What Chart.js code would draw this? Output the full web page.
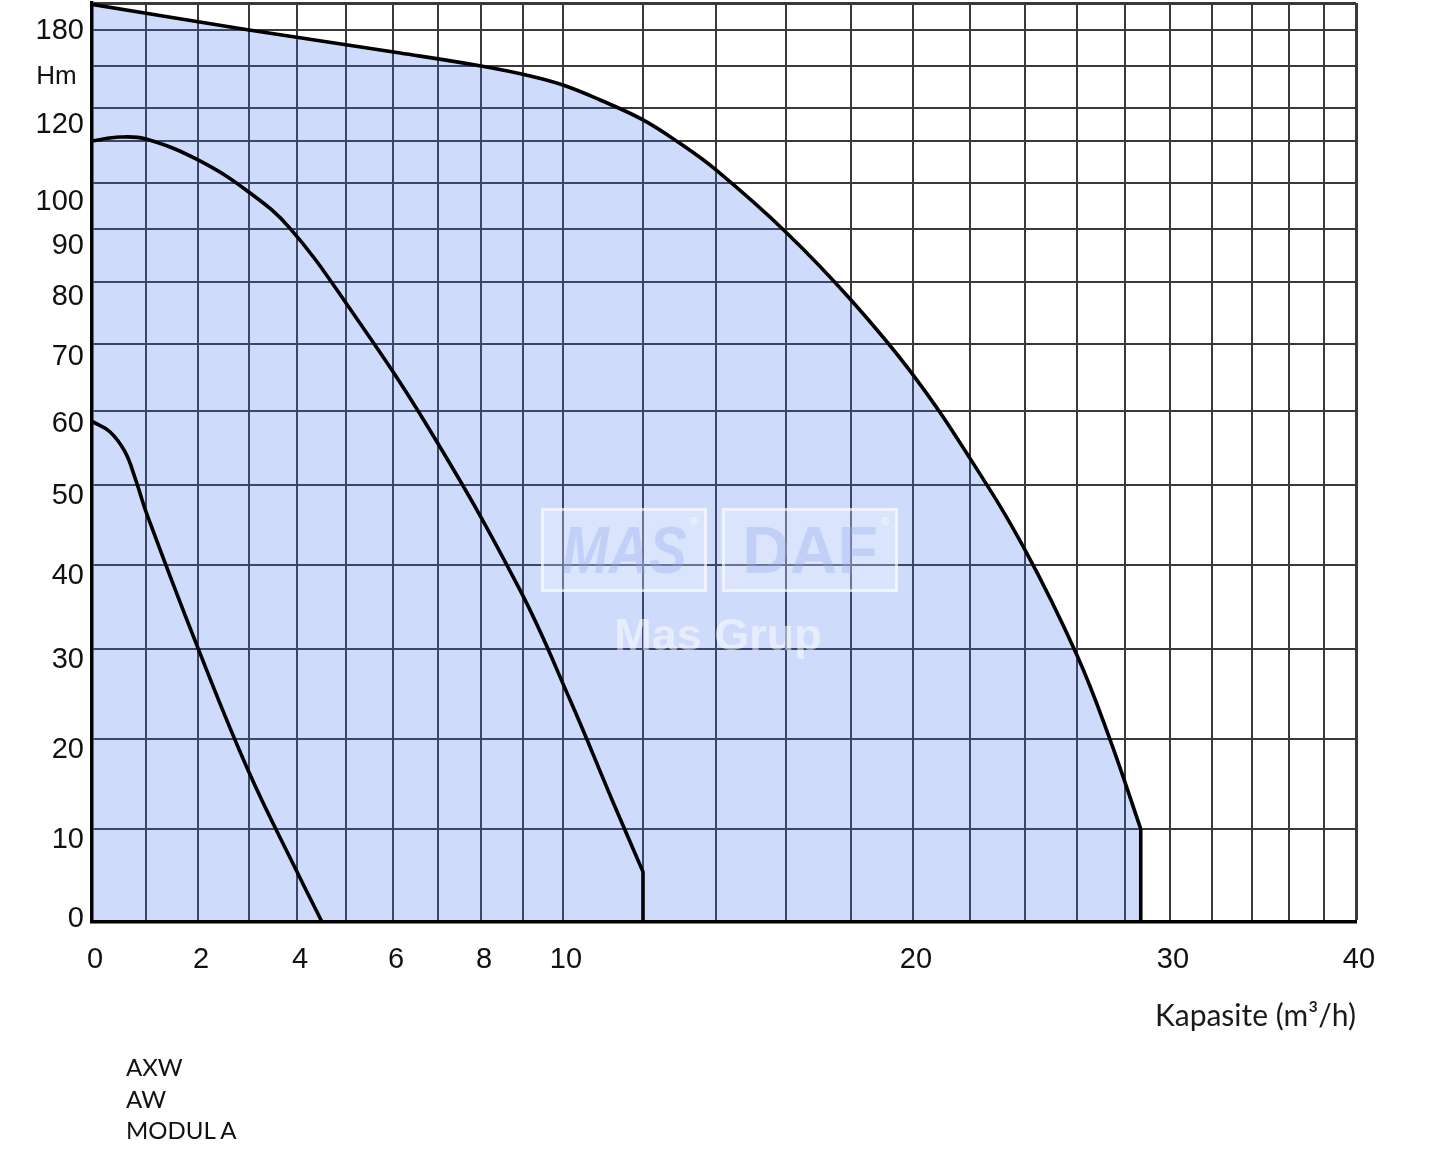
<!DOCTYPE html>
<html>
<head>
<meta charset="utf-8">
<script src="https://cdn.jsdelivr.net/npm/chart.js@4.4.1/dist/chart.umd.min.js"></script>
<style>
  html, body { margin: 0; padding: 0; background: #fff; }
  #wrap { position: relative; width: 1440px; height: 1153px; overflow: hidden; }
  #c { position: absolute; left: 0; top: 0; }
  .models { position: absolute; left: 126px; top: 1051px; font-family: Lato, "Open Sans", sans-serif; font-size: 24px; line-height: 31.5px; color: #111; }
  .wmbox { position: absolute; box-sizing: border-box; border: 3px solid rgba(255,255,255,0.6); background: rgba(255,255,255,0.25);
           display: flex; align-items: center; justify-content: center; pointer-events: none; }
  .wmbox span { font-family: "Liberation Sans", Arial, sans-serif; font-weight: bold; color: rgba(150,172,240,0.35); font-size: 66px; line-height: 1; }
  .wmbox sup { position: absolute; right: 6px; top: 4px; font-size: 11px; color: rgba(255,255,255,0.75); font-family: "Liberation Sans", Arial, sans-serif; }
  .wmtext { position: absolute; left: 560px; top: 608px; width: 316px; text-align: center; font-family: "Liberation Sans", Arial, sans-serif;
            font-weight: bold; font-size: 45px; line-height: 54px; color: rgba(255,255,255,0.5); pointer-events: none; }
</style>
</head>
<body>
<div id="wrap">
  <canvas id="c" width="1440" height="1153"></canvas>
  <div class="wmbox" style="left:541px;top:508px;width:166px;height:84px"><span style="font-style:italic;transform:scaleX(0.85)">MAS</span><sup>®</sup></div>
  <div class="wmbox" style="left:722px;top:508px;width:176px;height:84px"><span>DAF</span><sup>®</sup></div>
  <div class="wmtext">Mas Grup</div>
  <div class="models" id="models"></div>
</div>
<script>
// ---------------- data ----------------
const seriesNames = ['AXW', 'AW', 'MODUL A'];

// Capacity Q (m3/h) and head H (m) along each curve
const axwQ = [0, 3, 6.16, 8, 9.18, 10, 10.93, 12, 13, 14, 16, 18, 20, 22, 24, 26, 27.38, 28.7, 28.7, 28.7];
const axwH = [199, 180, 160.8, 150, 142.9, 136.4, 125.7, 116.4, 109.5, 103.1, 89.4, 77.1, 65.4, 53.6, 41.9, 29.3, 19.9, 10, 10, 0];

const awQ = [0, 0.52, 1, 2, 3, 3.85, 5, 6.82, 8.93, 10.18, 11.23, 12, 12, 12];
const awH = [110, 111.2, 110.6, 105.5, 98, 90.2, 76.6, 57.4, 37, 24.3, 13.2, 5.4, 5.4, 0];

const modQ = [0, 0.33, 0.61, 0.8, 1.02, 2, 3, 4, 4.51];
const modH = [58.6, 57.2, 54.5, 50.9, 46.3, 30.1, 16.3, 5.4, 0];

// Grid lines / ticks
const xGridValues = [0, 1, 2, 3, 4, 5, 6, 7, 8, 9, 10, 12, 14, 16, 18, 20, 22, 24, 26, 28, 30, 32, 34, 36, 38, 40];
const xTickLabels = ['0', '', '2', '', '4', '', '6', '', '8', '', '10', '', '', '', '', '20', '', '', '', '', '30', '', '', '', '', '40'];
const yGridValues = [0, 10, 20, 30, 40, 50, 60, 70, 80, 90, 100, 110, 120, 150, 180, 200];
const yTickLabels = ['0', '10', '20', '30', '40', '50', '60', '70', '80', '90', '100', '', '120', 'Hm', '180', ''];
const xTitle = 'Kapasite (m³/h)';

// ---------------- axis calibration (the printed chart uses warped axes) ----------------
// relative position of each grid line along its axis, measured on the reference sheet
const xAxisCalibration = [92, 146, 198, 249, 297, 346, 393, 438, 481, 523, 563, 643, 716, 786, 851, 913, 970, 1025, 1077, 1125, 1170, 1212, 1252, 1289, 1324, 1356];
const yAxisCalibration = [922, 829, 739, 649, 565, 485, 411, 344, 282, 229, 183, 141, 108, 66, 30, 3];
// small vertical nudges (px) of individual y tick labels, as printed on the sheet
const yLabelNudge = { '0': -14, '60': 2, '70': 2, '80': 4, '90': 6, '100': 8, '120': 6, '180': -10 };

function makeKnots(values, cal) {
  const a = cal[0], b = cal[cal.length - 1];
  return values.map((v, i) => [v, (cal[i] - a) / (b - a)]);
}

class WarpedScale extends Chart.LinearScale {
  static id = 'warped';
  static defaults = {};
  determineDataLimits() { this.min = this.options.min; this.max = this.options.max; }
  buildTicks() { return this.options.gridValues.map(v => ({ value: v })); }
  _frac(v) {
    const k = this.options.knots;
    if (v <= k[0][0]) return k[0][1];
    for (let i = 1; i < k.length; i++) {
      if (v <= k[i][0]) {
        const v0 = k[i - 1][0], f0 = k[i - 1][1], v1 = k[i][0], f1 = k[i][1];
        return f0 + (v - v0) / (v1 - v0) * (f1 - f0);
      }
    }
    return k[k.length - 1][1];
  }
  getPixelForValue(v) { return this.getPixelForDecimal(this._frac(v)); }
  getValueForPixel(p) {
    const d = this.getDecimalForPixel(p);
    const k = this.options.knots;
    for (let i = 1; i < k.length; i++) {
      if (d <= k[i][1]) {
        const v0 = k[i - 1][0], f0 = k[i - 1][1], v1 = k[i][0], f1 = k[i][1];
        return v0 + (d - f0) / (f1 - f0) * (v1 - v0);
      }
    }
    return k[k.length - 1][0];
  }
}
Chart.register(WarpedScale);

document.getElementById('models').innerHTML = seriesNames.join('<br>');

const toPts = (q, h) => q.map((x, i) => ({ x, y: h[i] }));
const gridColor = '#3a3a3a';
const numFont = '"Liberation Sans", Arial, sans-serif';

function yLabelOf(v) { return yTickLabels[yGridValues.indexOf(v)]; }

new Chart(document.getElementById('c'), {
  type: 'line',
  data: {
    datasets: [
      { label: seriesNames[0], data: toPts(axwQ, axwH), borderColor: '#000', borderWidth: 3.6, pointRadius: 0,
        tension: 0.4, fill: 'origin', backgroundColor: 'rgba(59,111,239,0.25)', order: 10 },
      { label: seriesNames[1], data: toPts(awQ, awH), borderColor: '#000', borderWidth: 3.6, pointRadius: 0,
        tension: 0.4, fill: false, order: 1 },
      { label: seriesNames[2], data: toPts(modQ, modH), borderColor: '#000', borderWidth: 3.6, pointRadius: 0,
        tension: 0.4, fill: false, order: 0 }
    ]
  },
  options: {
    responsive: false,
    devicePixelRatio: 1,
    animation: false,
    events: [],
    layout: { padding: { left: 0, right: 84, top: 3, bottom: 0 } },
    plugins: { legend: { display: false }, tooltip: { enabled: false }, title: { display: false } },
    scales: {
      x: {
        type: 'warped', axis: 'x', position: 'bottom', min: 0, max: 40,
        gridValues: xGridValues, knots: makeKnots(xGridValues, xAxisCalibration),
        grid: { color: gridColor, drawTicks: false, lineWidth: c => (c.tick && c.tick.value === 40) ? 3 : 2 },
        border: { color: '#000', width: 3.5, z: 1 },
        ticks: {
          autoSkip: false, maxRotation: 0, minRotation: 0, padding: 21, labelOffset: 3, color: '#111',
          font: { family: numFont, size: 29 },
          callback: v => xTickLabels[xGridValues.indexOf(v)]
        },
        title: { display: true, text: xTitle, align: 'end', color: '#1a1a1a',
                 font: { family: 'Lato, "Open Sans", sans-serif', size: 30 }, padding: { top: 0, bottom: 119 } },
        afterFit: s => { s.height = 231; s.paddingLeft = 0; s.paddingRight = 0; }
      },
      y: {
        type: 'warped', axis: 'y', position: 'left', min: 0, max: 200,
        gridValues: yGridValues, knots: makeKnots(yGridValues, yAxisCalibration),
        grid: { color: gridColor, drawTicks: false, lineWidth: c => (c.tick && c.tick.value === 200) ? 3 : 2 },
        border: { color: '#000', width: 3.5, z: 1 },
        ticks: {
          autoSkip: false, padding: 8, labelOffset: 11, color: '#111',
          font: c => {
            const lab = c.tick ? yLabelOf(c.tick.value) : '';
            const size = lab === 'Hm' ? 26 : 29;
            const n = yLabelNudge[lab];
            return n ? { family: numFont, size, lineHeight: (2 * Math.abs(n)) + 'px' } : { family: numFont, size };
          },
          callback: v => {
            const lab = yLabelOf(v);
            const n = yLabelNudge[lab];
            const text = lab === 'Hm' ? 'Hm ' : lab;
            if (!n) return text;
            return n < 0 ? [text, ''] : ['', text];
          }
        },
        afterFit: s => { s.width = 92; s.paddingTop = 0; s.paddingBottom = 0; }
      }
    }
  }
});
</script>
</body>
</html>
